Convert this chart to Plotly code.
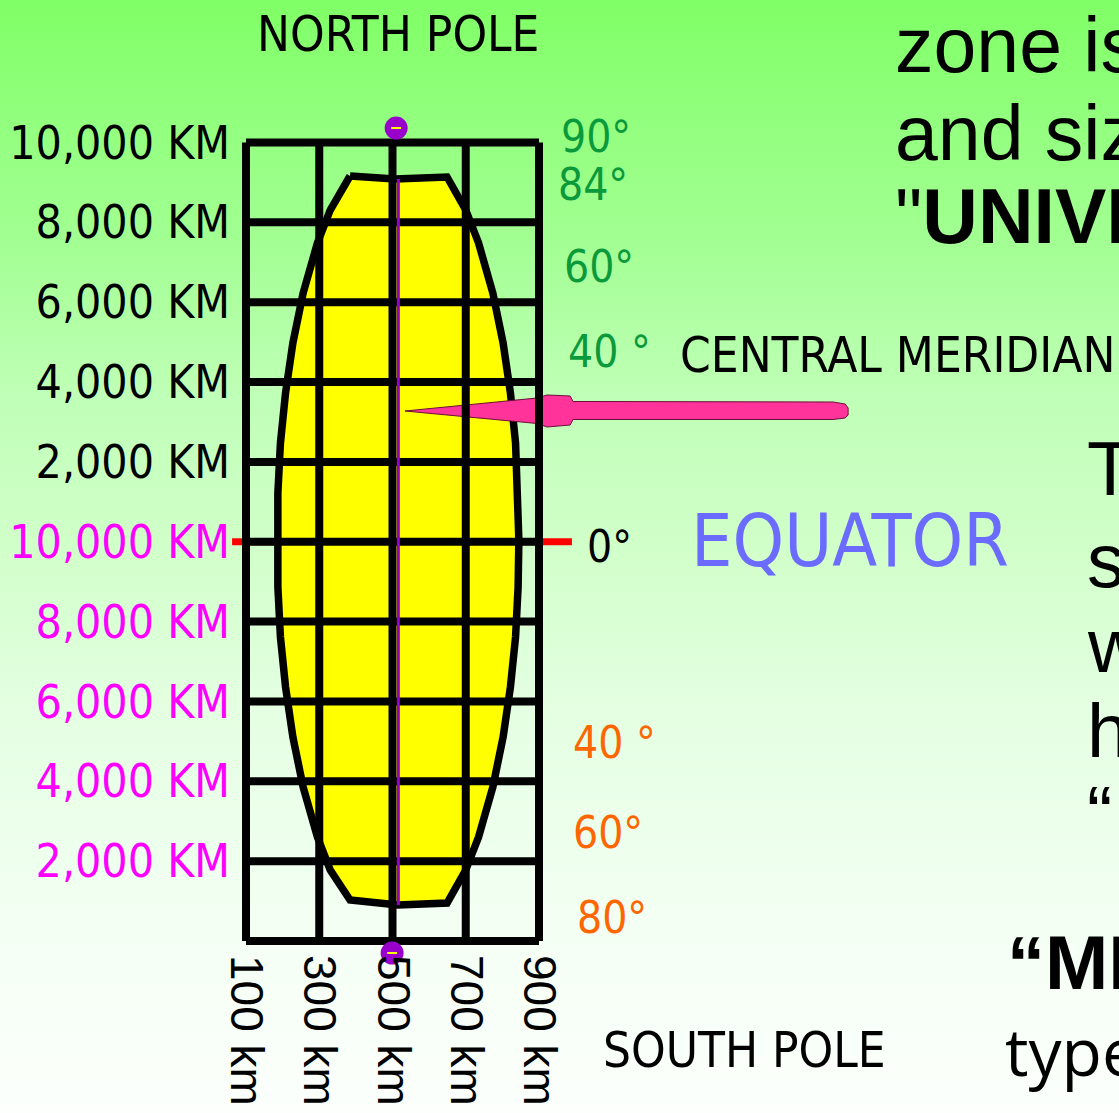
import plotly.graph_objects as go

W, H = 1119, 1113

# ---------------- data ----------------
grid_eastings_km = [100, 300, 500, 700, 900]
grid_northings_km = [10000, 8000, 6000, 4000, 2000, 0, -2000, -4000, -6000, -8000, -10000]

north_tick_vals = [10000, 8000, 6000, 4000, 2000]
north_tick_text = ["10,000 KM", "8,000 KM", "6,000 KM", "4,000 KM", "2,000 KM"]
south_tick_vals = [0, -2000, -4000, -6000, -8000]
south_tick_text = ["10,000 KM", "8,000 KM", "6,000 KM", "4,000 KM", "2,000 KM"]
easting_tick_text = ["100 km", "300 km", "500 km", "700 km", "900 km"]

# UTM zone outline (easting km, northing km)
zone_easting = [384, 507, 649, 700, 735, 774, 802, 822, 836, 843, 845, 843, 836, 822, 802,
                774, 735, 700, 649, 515, 384, 330, 295, 256, 228, 208, 194, 187, 185, 187,
                194, 208, 228, 256, 295, 330, 384]
zone_northing = [9161, 9086, 9136, 8309, 7483, 6230, 4978, 3726, 2473, 1221, 44, -1133, -2386,
                 -3638, -4890, -6143, -7395, -8222, -9048, -9098, -8973, -8222, -7395, -6143,
                 -4890, -3638, -2386, -1133, 44, 1221, 2473, 3726, 4978, 6230, 7483, 8309, 9161]

# central-meridian pointer
pointer_easting = [534, 894.5, 922, 985, 993, 1703, 1736, 1744, 1744, 1736, 1703, 993, 985, 922, 894.5, 534]
pointer_northing = [3275, 3600, 3676, 3651, 3513, 3500, 3450, 3350, 3175, 3100, 3062, 3062, 2924, 2874, 2962, 3275]

central_meridian_easting = [516, 516]
central_meridian_northing = [9086, -9098]
equator_easting = [62, 990]
equator_northing = [0, 0]
pole_easting = [510, 499]
pole_northing = [10363, -10301]

north_lat_text = ["90°", "84°", "60°", "40 °"]
south_lat_text = ["40 °", "60°", "80°"]

# ---------------- scales ----------------
PX_E100, PX_E900 = 246.0, 539.0
PX_N_TOP, PX_N_BOT = 142.5, 941.0
sx = (PX_E900 - PX_E100) / 800.0
sy = (PX_N_BOT - PX_N_TOP) / 20000.0
x_range = [100 - PX_E100 / sx, 100 + (W - PX_E100) / sx]
y_range = [-10000 - (H - PX_N_BOT) / sy, 10000 + PX_N_TOP / sy]

NARROW = "Liberation Sans Narrow, Arial Narrow, DejaVu Sans Condensed, sans-serif"
SANS = "Liberation Sans, Arial, Helvetica, sans-serif"


def px(x):
    return x / W


def py(y):
    return 1 - y / H


fig = go.Figure()

# background gradient bands
stops = [(0, (128, 255, 102)), (120, (146, 255, 126)), (240, (162, 255, 146)),
         (400, (192, 255, 184)), (540, (208, 255, 200)), (710, (228, 255, 226)),
         (950, (245, 255, 245)), (1113, (252, 255, 252))]


def col_at(y):
    for (y0, c0), (y1, c1) in zip(stops[:-1], stops[1:]):
        if y0 <= y <= y1:
            t = (y - y0) / (y1 - y0)
            return "rgb(%d,%d,%d)" % tuple(round(a + (b - a) * t) for a, b in zip(c0, c1))
    return "rgb(%d,%d,%d)" % stops[-1][1]


shapes = []
step = 8
for y0 in range(0, H, step):
    y1 = min(H, y0 + step + 1)
    shapes.append(dict(type="rect", xref="paper", yref="paper", x0=0, x1=1,
                       y0=py(y1), y1=py(y0), fillcolor=col_at(y0 + step / 2),
                       line=dict(width=0), layer="below"))

# equator (red)
fig.add_trace(go.Scatter(x=equator_easting, y=equator_northing, mode="lines",
                         line=dict(color="#FF0000", width=7), hoverinfo="skip"))
# zone
fig.add_trace(go.Scatter(x=zone_easting, y=zone_northing, mode="lines", fill="toself",
                         fillcolor="#FFFF00", line=dict(color="black", width=7.5),
                         hoverinfo="skip"))
# pointer
fig.add_trace(go.Scatter(x=pointer_easting, y=pointer_northing, mode="lines", fill="toself",
                         fillcolor="#FF3399", line=dict(color="#6a1038", width=1),
                         hoverinfo="skip"))
# grid
gx, gy = [], []
for e in grid_eastings_km:
    gx += [e, e, None]
    gy += [grid_northings_km[0], grid_northings_km[-1], None]
for n in grid_northings_km:
    gx += [grid_eastings_km[0], grid_eastings_km[-1], None]
    gy += [n, n, None]
fig.add_trace(go.Scatter(x=gx, y=gy, mode="lines", line=dict(color="black", width=8),
                         hoverinfo="skip"))
# central meridian
fig.add_trace(go.Scatter(x=central_meridian_easting, y=central_meridian_northing, mode="lines",
                         line=dict(color="#9900CC", width=3), hoverinfo="skip"))
# poles
fig.add_trace(go.Scatter(x=pole_easting, y=pole_northing, mode="markers",
                         marker=dict(symbol="circle", size=23, color="#9900CC", line=dict(width=0)),
                         hoverinfo="skip"))
fig.add_trace(go.Scatter(x=pole_easting, y=pole_northing, mode="markers",
                         marker=dict(symbol="line-ew", size=7, line=dict(color="#FFFF00", width=2)),
                         hoverinfo="skip"))

annotations = []


def ann(text, x, y, size, color="black", family=NARROW, xanchor="left"):
    annotations.append(dict(text=text, x=px(x), y=py(y), xref="paper", yref="paper",
                            xanchor=xanchor, yanchor="middle", showarrow=False,
                            font=dict(size=size, color=color, family=family)))


GREEN = "#0A9A3C"
ORANGE = "#FF6600"
ann("NORTH POLE", 398, 35, 49, xanchor="center")
for t, (x, y) in zip(north_lat_text, [(559, 136), (556, 184), (562, 267), (566, 351)]):
    ann(t, x, y, 44, GREEN)
for t, (x, y) in zip(south_lat_text, [(571, 742), (571, 832), (575, 917)]):
    ann(t, x, y, 44, ORANGE)
ann("0°", 585, 546, 44)
ann("EQUATOR", 689, 540, 73, "#6B6BFF")
ann("CENTRAL MERIDIAN", 678, 355, 49)
ann("SOUTH POLE", 601, 1050, 49)

ann("zone is", 893, 45, 77, family=SANS)
ann("and size", 893, 133, 77, family=SANS)
ann("\"<b>UNIVERSAL</b>", 893, 216, 77, family=SANS)
for t, y in zip(["The", "s", "w", "h", "“"], [468, 560, 645, 730, 812]):
    ann(t, 1085, y, 76, family=SANS)
ann("<b>“MI</b>", 1005, 962, 76, family=SANS)
ann("type", 1003, 1050, 66, family="Open Sans, Liberation Sans, sans-serif")

fig.update_layout(
    width=W, height=H, margin=dict(l=0, r=0, t=0, b=0, pad=0), autosize=False,
    paper_bgcolor="white", plot_bgcolor="rgba(0,0,0,0)",
    showlegend=False, shapes=shapes, annotations=annotations,
    xaxis=dict(range=x_range, domain=[0, 1], anchor="free", position=py(954),
               automargin=False,
               showgrid=False, zeroline=False, showline=False, ticks="",
               tickvals=grid_eastings_km, ticktext=easting_tick_text, tickangle=90,
               tickfont=dict(size=46, color="black", family=SANS), fixedrange=True),
    yaxis=dict(range=y_range, domain=[0, 1], anchor="free", position=px(230),
               automargin=False,
               showgrid=False, zeroline=False, showline=False, ticks="",
               tickvals=north_tick_vals + south_tick_vals,
               ticktext=north_tick_text + ["<span style='color:#FF00FF'>%s</span>" % t
                                           for t in south_tick_text],
               tickfont=dict(size=46, color="black", family=NARROW), fixedrange=True),
)

fig.write_html("out.html", config={"displayModeBar": False, "staticPlot": True},
               post_script="document.body.style.margin='0';document.body.style.overflow='hidden';")
